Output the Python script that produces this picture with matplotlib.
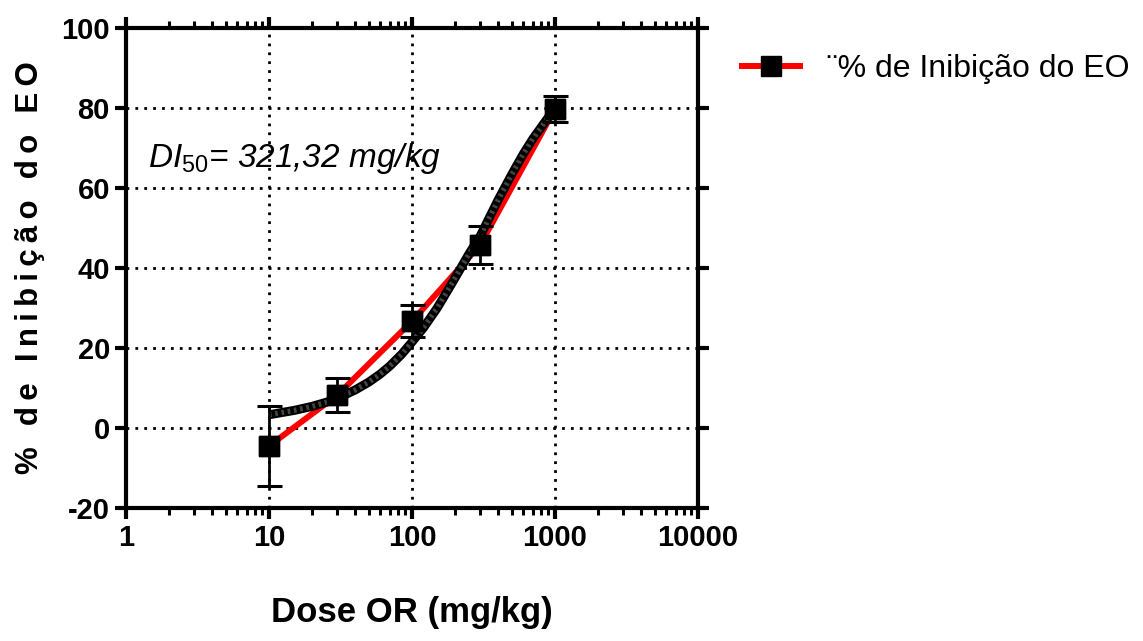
import numpy as np
import matplotlib
matplotlib.use("Agg")
import matplotlib.pyplot as plt
from matplotlib.ticker import FixedLocator, NullFormatter, LogLocator

# dose-response data (means +/- error)
dose = [10, 30, 100, 300, 1000]
inib = [-4.5, 8.2, 26.7, 45.8, 79.8]
inib_err = [10.0, 4.3, 4.0, 4.7, 3.2]

# fitted curve
fit_dose = [10, 12, 15, 20, 25, 30, 40, 50, 60, 70, 85, 100, 120, 150, 175, 200, 250, 300,
            400, 500, 600, 700, 850, 1000]
fit_inib = [3.3, 3.8, 4.4, 5.4, 6.4, 7.4, 9.5, 11.5, 13.5, 15.5, 18.5, 21.5, 25, 30, 34, 37.5,
            43.5, 48, 57, 63.5, 68.5, 72.3, 76.5, 80]

x_ticks = [1, 10, 100, 1000, 10000]
y_ticks = [-20, 0, 20, 40, 60, 80, 100]

label_serie = "¨% de Inibição do EO"
y_title = "% de Inibição do EO"
sans = ["Liberation Sans", "DejaVu Sans"]
plt.rcParams["font.family"] = sans
plt.rcParams["axes.unicode_minus"] = False
plt.rcParams["mathtext.fontset"] = "custom"
plt.rcParams["mathtext.it"] = "Liberation Sans:italic"
plt.rcParams["mathtext.rm"] = "Liberation Sans"

fig = plt.figure(figsize=(11.43, 6.41), dpi=100)
ax = fig.add_axes([0.1102, 0.2075, 0.5005, 0.7488])
ax.set_xscale("log")
ax.set_xlim(1, 10000)
ax.set_ylim(-20, 100)

ax.grid(True, which="major", color="black", linestyle=(0, (1, 2.2)), linewidth=2)
ax.set_axisbelow(True)

ax.plot(dose, inib, color="red", lw=4.3, marker="s", ms=14, mfc="black", mec="black",
        zorder=3, label=label_serie)
ax.plot(fit_dose, fit_inib, color="black", lw=6.5, solid_capstyle="butt",
        solid_joinstyle="round", zorder=4)
ax.plot(fit_dose, fit_inib, color="#444444", lw=3.8, linestyle=(0, (0.5, 0.7)), zorder=4)
ax.errorbar(dose, inib, yerr=inib_err, fmt="none", ecolor="black", elinewidth=2,
            capsize=9, capthick=2.2, zorder=5)
ax.plot(dose, inib, linestyle="none", marker="s", ms=14, mfc="black", mec="black", zorder=6)

for s in ax.spines.values():
    s.set_linewidth(3)
ax.tick_params(which="major", direction="out", length=8, width=3,
               top=True, right=True, labelsize=21)
ax.tick_params(which="minor", direction="out", length=5, width=2.2, top=True)
ax.tick_params(axis="y", which="minor", left=False, right=False)
ax.xaxis.set_major_locator(FixedLocator(x_ticks))
ax.xaxis.set_minor_locator(LogLocator(base=10, subs=np.arange(2, 10)))
ax.xaxis.set_minor_formatter(NullFormatter())
ax.set_xticklabels([str(t) for t in x_ticks])
ax.set_yticks(y_ticks)
for lab in ax.get_xticklabels() + ax.get_yticklabels():
    lab.set_fontweight("bold")

ax.set_xlabel("Dose OR (mg/kg)", fontsize=25, fontweight="bold", labelpad=32)
# reference title is letter-spaced
ax.set_ylabel("\u2009".join(y_title), fontsize=22.5, fontweight="bold", labelpad=12)

ax.text(0.038, 0.728, r"$DI_{50}$= 321,32 mg/kg", transform=ax.transAxes,
        fontsize=24, style="italic", va="center", ha="left")

ax.legend(loc="center left", bbox_to_anchor=(1.077, 0.915), frameon=False,
          fontsize=23, numpoints=1, handlelength=1.8, handletextpad=0.85,
          borderpad=0, borderaxespad=0)

fig.savefig("out.png", dpi=100)
